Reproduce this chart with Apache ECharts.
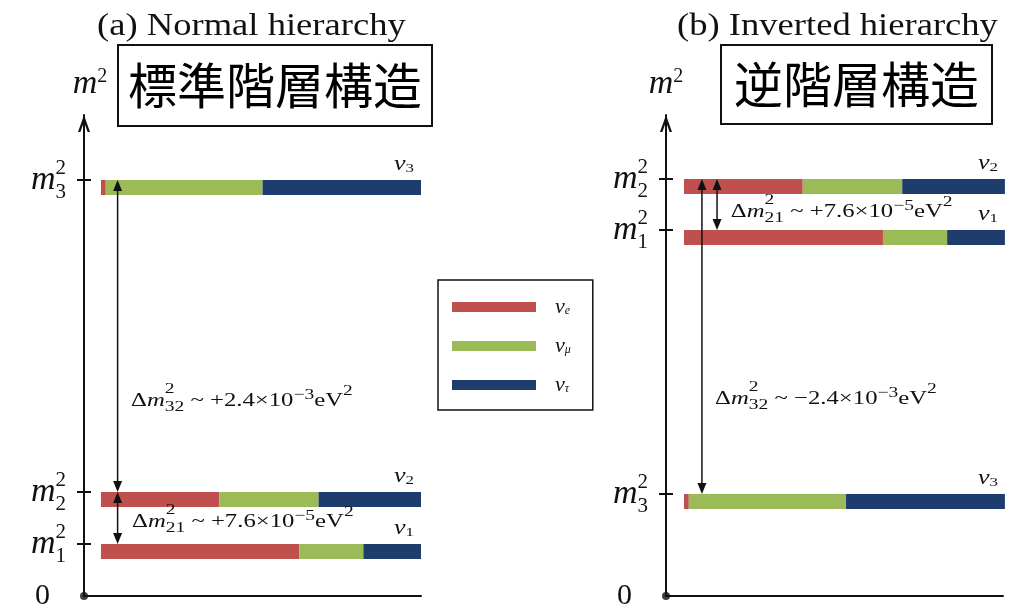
<!DOCTYPE html>
<html>
<head>
<meta charset="utf-8">
<title>Neutrino mass hierarchy</title>
<script src="https://cdn.jsdelivr.net/npm/echarts@6.0.0/dist/echarts.min.js"></script>
<style>
  html, body { margin: 0; padding: 0; background: #fff; }
  #main { width: 1015px; height: 612px; }
</style>
</head>
<body>
<div id="main"></div>
<script>
// flavour content of the mass states nu1, nu2, nu3
var flavorNames = ["νe", "νμ", "ντ"];
var flavorColors = ["#c0504d", "#9bbb59", "#1f3d6c"];
var shareE = [0.62, 0.37, 0.015];
var shareMu = [0.20, 0.31, 0.49];
var shareTau = [0.18, 0.32, 0.495];

// m^2 of nu1, nu2, nu3 in drawing units (schematic, not to scale)
var normalLevels = [52, 104, 416];
var invertedLevels = [366, 417, 102];
var yTop = 481;

// double arrows: [x, from m^2, to m^2]
var normalArrows = [[0.052, 416, 104], [0.052, 104, 52]];
var invertedArrows = [[0.056, 417, 102], [0.103, 417, 366]];

// Δm² notes
var normalNotes = [
  { x: 0.094, y: 195, sub: "32", text: " ~ +2.4×10", exp: "−3" },
  { x: 0.097, y: 74, sub: "21", text: " ~ +7.6×10", exp: "−5" }
];
var invertedNotes = [
  { x: 0.146, y: 384, sub: "21", text: " ~ +7.6×10", exp: "−5" },
  { x: 0.097, y: 197, sub: "32", text: " ~ −2.4×10", exp: "−3" }
];

var serif = '"Liberation Serif", "Times New Roman", serif';
var ink = "#111";
var stretch = 1.3; // the original figure is drawn wider than tall

var measureCtx = document.createElement("canvas").getContext("2d");
function textWidth(font, s) {
  measureCtx.font = font;
  return measureCtx.measureText(s).width;
}
var noteSize = 19;
var noteLine = 38;
var deltaMWidth = textWidth(noteSize + 'px "Liberation Serif"', "Δ") +
  textWidth("italic " + noteSize + 'px "Liberation Serif"', "m");

// [start, end, level, state] for one flavour across the three mass states
function segments(levels, f) {
  var out = [];
  for (var s = 0; s < 3; s++) {
    var e = shareE[s], m = shareMu[s], t = shareTau[s];
    var start = [0, e, e + m][f];
    var end = [e, e + m, e + m + t][f];
    out.push([start, end, levels[s], s + 1]);
  }
  return out;
}

var nuRich = {
  n: { fontFamily: serif, fontStyle: "italic", fontSize: 20, lineHeight: 20, fill: ink },
  s: { fontFamily: serif, fontSize: 13, lineHeight: 13, verticalAlign: "bottom", fill: ink }
};

function renderBar(params, api) {
  var p0 = api.coord([api.value(0), api.value(2)]);
  var p1 = api.coord([api.value(1), api.value(2)]);
  var children = [{
    type: "rect",
    shape: { x: p0[0], y: p0[1], width: p1[0] - p0[0], height: 15 },
    style: { fill: api.visual("color") }
  }];
  if (params.seriesName === "ντ") {
    children.push({
      type: "text",
      x: p1[0] - 7,
      y: p0[1] - 15,
      scaleX: stretch,
      style: {
        text: "{n|ν}{s|" + api.value(3) + "}",
        rich: nuRich,
        align: "right",
        verticalAlign: "middle"
      }
    });
  }
  return { type: "group", children: children };
}

function renderArrow(params, api) {
  var x = api.value(0);
  var a = api.coord([x, api.value(1)]);
  var b = api.coord([x, api.value(2)]);
  var dir = b[1] > a[1] ? 1 : -1; // +1 when b is below a
  var hw = 4.5, hl = 11;
  return {
    type: "group",
    children: [
      { type: "line", shape: { x1: a[0], y1: a[1] + dir * hl, x2: b[0], y2: b[1] - dir * hl },
        style: { stroke: ink, lineWidth: 1.5 } },
      { type: "polygon", shape: { points: [[a[0], a[1]], [a[0] - hw, a[1] + dir * hl], [a[0] + hw, a[1] + dir * hl]] },
        style: { fill: ink } },
      { type: "polygon", shape: { points: [[b[0], b[1]], [b[0] - hw, b[1] - dir * hl], [b[0] + hw, b[1] - dir * hl]] },
        style: { fill: ink } }
    ]
  };
}

// rich styles for the notes; a top-aligned token's centre sits at
// -noteLine/2 + padding-top + 7.5 from the line middle
var noteRich = {
  t: { fontFamily: serif, fontSize: noteSize, lineHeight: noteLine, fill: ink },
  i: { fontFamily: serif, fontStyle: "italic", fontSize: noteSize, lineHeight: noteLine, fill: ink },
  sub: { fontFamily: serif, fontSize: 15, lineHeight: 15, padding: [0, 0, 5, 0], verticalAlign: "bottom", fill: ink },
  exp: { fontFamily: serif, fontSize: 15, lineHeight: 15, padding: [6, 0, 0, 0], verticalAlign: "top", fill: ink },
  sup: { fontFamily: serif, fontSize: 15, lineHeight: 15, padding: [2, 0, 0, 0], verticalAlign: "top", fill: ink }
};

function makeNoteRenderer(notes) {
  return function (params, api) {
    var n = notes[params.dataIndex];
    var p = api.coord([api.value(0), api.value(1)]);
    return {
      type: "group",
      x: p[0],
      y: p[1],
      scaleX: stretch,
      children: [
        {
          type: "text",
          style: {
            text: "{t|Δ}{i|m}{sub|" + n.sub + "}{t|" + n.text + "}{exp|" + n.exp + "}{t|eV}{sup|2}",
            rich: noteRich,
            align: "left",
            verticalAlign: "middle"
          }
        },
        {
          type: "text",
          x: deltaMWidth,
          y: -12,
          style: { text: "2", fontFamily: serif, fontSize: 15, fill: ink, align: "left", verticalAlign: "middle" }
        }
      ]
    };
  };
}

var tickRich = {
  m: { fontFamily: serif, fontStyle: "italic", fontSize: 34, lineHeight: 46, color: ink },
  sub: { fontFamily: serif, fontSize: 21, lineHeight: 20, verticalAlign: "bottom", color: ink },
  sup: { fontFamily: serif, fontSize: 21, lineHeight: 20, padding: [0, 0, 24, 0], color: ink },
  z: { fontFamily: serif, fontSize: 30, padding: [0, 16, 0, 0], color: ink }
};

var nameRich = {
  m: { fontFamily: serif, fontStyle: "italic", fontSize: 34, lineHeight: 34, color: ink },
  sup: { fontFamily: serif, fontSize: 20, lineHeight: 20, verticalAlign: "top", color: ink }
};

var chevron = "path://M0,17 L6,0 L12,17 L9.6,17 L6,6.8 L2.4,17 Z";

function mainX(grid, min, max) {
  return {
    type: "value", gridIndex: grid, min: min, max: max,
    axisLine: { show: true, onZero: false, lineStyle: { color: ink, width: 2 } },
    axisTick: { show: false }, axisLabel: { show: false }, splitLine: { show: false }
  };
}
function overlayX(grid, min, max) {
  return { type: "value", gridIndex: grid, min: min, max: max, show: false };
}
function mainY(grid, levels, namePad) {
  return {
    type: "value", gridIndex: grid, min: 0, max: yTop,
    name: "{m|m}{sup|2}",
    nameLocation: "end",
    nameGap: 14,
    nameTextStyle: { rich: nameRich, padding: [0, 0, 0, namePad] },
    axisLine: {
      show: true, onZero: false,
      symbol: ["none", chevron], symbolSize: [12, 17], symbolOffset: [0, -8.5],
      lineStyle: { color: ink, width: 2 }
    },
    axisTick: { show: true, length: 7, lineStyle: { color: ink, width: 2 }, customValues: levels },
    axisLabel: {
      margin: 18,
      customValues: [0].concat(levels),
      formatter: function (v) {
        if (v === 0) return "{z|0}";
        return "{m|m}{sub|" + (levels.indexOf(v) + 1) + "}";
      },
      rich: tickRich
    },
    splitLine: { show: false }
  };
}
function overlayY(grid, levels) {
  return {
    type: "value", gridIndex: grid, min: 0, max: yTop,
    axisLine: { show: false, onZero: false },
    axisTick: { show: true, inside: true, length: 7, lineStyle: { color: ink, width: 2 }, customValues: levels },
    axisLabel: {
      margin: 18,
      customValues: levels,
      formatter: function () { return "{sup|2}"; },
      rich: tickRich
    },
    splitLine: { show: false }
  };
}

var gridLeft = { left: 84, right: 594, top: 115, bottom: 16 };
var gridRight = { left: 666, right: 12, top: 115, bottom: 16 };
var xRangeL = [-0.053, 1.0];
var xRangeR = [-0.056, 0.994];

var series = [];
for (var f = 0; f < 3; f++) {
  series.push({
    type: "custom", name: flavorNames[f], xAxisIndex: 0, yAxisIndex: 0,
    itemStyle: { color: flavorColors[f] }, renderItem: renderBar,
    data: segments(normalLevels, f)
  });
  series.push({
    type: "custom", name: flavorNames[f], xAxisIndex: 2, yAxisIndex: 2,
    itemStyle: { color: flavorColors[f] }, renderItem: renderBar,
    data: segments(invertedLevels, f)
  });
}

series.push({
  type: "custom", xAxisIndex: 0, yAxisIndex: 0, silent: true, z: 5,
  renderItem: renderArrow, data: normalArrows
});
series.push({
  type: "custom", xAxisIndex: 2, yAxisIndex: 2, silent: true, z: 5,
  renderItem: renderArrow, data: invertedArrows
});

series.push({
  type: "custom", xAxisIndex: 0, yAxisIndex: 0, silent: true,
  renderItem: makeNoteRenderer(normalNotes),
  data: normalNotes.map(function (n) { return [n.x, n.y]; })
});
series.push({
  type: "custom", xAxisIndex: 2, yAxisIndex: 2, silent: true,
  renderItem: makeNoteRenderer(invertedNotes),
  data: invertedNotes.map(function (n) { return [n.x, n.y]; })
});

// origin dots
series.push({
  type: "scatter", xAxisIndex: 0, yAxisIndex: 0, clip: false, silent: true,
  symbolSize: 8, itemStyle: { color: ink }, data: [[xRangeL[0], 0]]
});
series.push({
  type: "scatter", xAxisIndex: 2, yAxisIndex: 2, clip: false, silent: true,
  symbolSize: 8, itemStyle: { color: ink }, data: [[xRangeR[0], 0]]
});

var myChart = echarts.init(document.getElementById("main"));
var option = {
  animation: false,
  backgroundColor: "#fff",
  graphic: [
    { type: "text", x: 97, y: 27, scaleX: 1.18,
      style: { text: "(a) Normal hierarchy", fontFamily: serif, fontSize: 31, fill: ink, align: "left", verticalAlign: "middle" } },
    { type: "text", x: 677, y: 27, scaleX: 1.18,
      style: { text: "(b) Inverted hierarchy", fontFamily: serif, fontSize: 31, fill: ink, align: "left", verticalAlign: "middle" } }
  ],
  title: [
    { text: "標準階層構造", left: 118, top: 45, padding: [16, 10, 16, 10],
      borderColor: ink, borderWidth: 2,
      textStyle: { fontFamily: "Noto Sans CJK JP", fontWeight: "normal", fontSize: 49, lineHeight: 49, color: "#000" } },
    { text: "逆階層構造", left: 721, top: 45, padding: [15, 13, 15, 13],
      borderColor: ink, borderWidth: 2,
      textStyle: { fontFamily: "Noto Sans CJK JP", fontWeight: "normal", fontSize: 49, lineHeight: 49, color: "#000" } }
  ],
  legend: {
    data: flavorNames, orient: "vertical", left: 438, top: 280,
    itemWidth: 84, itemHeight: 10, itemGap: 17, icon: "rect",
    borderColor: ink, borderWidth: 1.5, padding: [16, 22, 14, 14],
    selectedMode: false,
    formatter: function (name) { return "{n|ν}{s|" + name.slice(1) + "}"; },
    textStyle: {
      rich: {
        n: { fontFamily: serif, fontStyle: "italic", fontSize: 22, lineHeight: 20, padding: [0, 0, 0, 14], color: ink },
        s: { fontFamily: serif, fontStyle: "italic", fontSize: 12, lineHeight: 12, verticalAlign: "bottom", color: ink }
      }
    }
  },
  grid: [gridLeft, gridLeft, gridRight, gridRight],
  xAxis: [
    mainX(0, xRangeL[0], xRangeL[1]), overlayX(1, xRangeL[0], xRangeL[1]),
    mainX(2, xRangeR[0], xRangeR[1]), overlayX(3, xRangeR[0], xRangeR[1])
  ],
  yAxis: [
    mainY(0, normalLevels, 12), overlayY(1, normalLevels),
    mainY(2, invertedLevels, 0), overlayY(3, invertedLevels)
  ],
  series: series
};

myChart.setOption(option);
window.addEventListener("resize", function () {
  myChart.resize();
});
</script>
</body>
</html>
